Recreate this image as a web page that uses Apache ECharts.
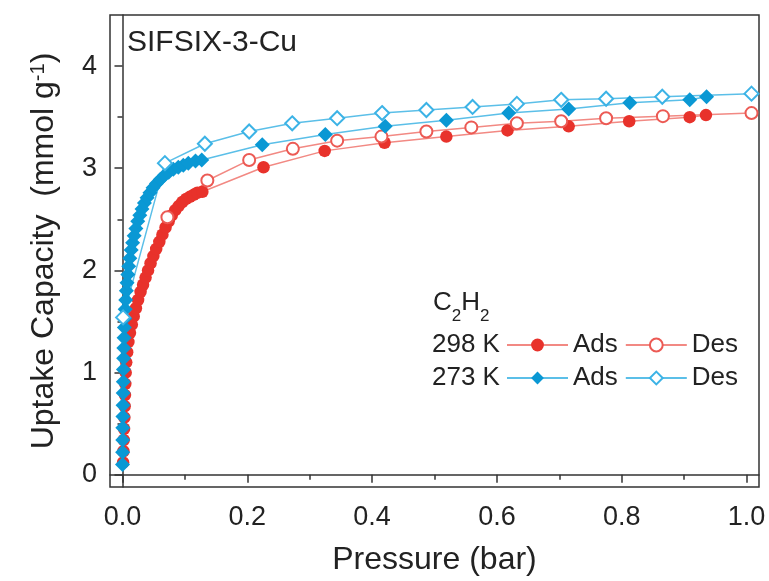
<!DOCTYPE html>
<html>
<head>
<meta charset="utf-8">
<title>SIFSIX-3-Cu C2H2 isotherms</title>
<script src="https://cdn.jsdelivr.net/npm/echarts@6/dist/echarts.min.js"></script>
<style>
  html, body { margin: 0; padding: 0; background: #fff; }
  #chart { width: 769px; height: 581px; }
</style>
</head>
<body>
<div id="chart"></div>
<script>
// C2H2 isotherms on SIFSIX-3-Cu: [pressure (bar), uptake (mmol/g)]
const ads298 = [
  [0.0010, 0.12], [0.0015, 0.23], [0.0020, 0.34], [0.0025, 0.45], [0.0030, 0.56],
  [0.0035, 0.67], [0.0040, 0.78], [0.0045, 0.89], [0.0052, 1.00], [0.0060, 1.10],
  [0.0075, 1.20], [0.0095, 1.30], [0.0120, 1.39], [0.0150, 1.47], [0.0180, 1.55],
  [0.0215, 1.63], [0.0250, 1.71], [0.0290, 1.79], [0.0330, 1.86], [0.0370, 1.93],
  [0.0410, 2.00], [0.0450, 2.07], [0.0495, 2.14], [0.0540, 2.21], [0.0590, 2.28],
  [0.0640, 2.35], [0.0690, 2.42], [0.0740, 2.48], [0.0790, 2.54], [0.0845, 2.59],
  [0.0900, 2.63], [0.0960, 2.67], [0.1020, 2.70], [0.1080, 2.72], [0.1140, 2.74],
  [0.1200, 2.76], [0.1280, 2.77],
  [0.226, 3.01], [0.324, 3.17], [0.420, 3.25], [0.519, 3.31], [0.617, 3.37],
  [0.715, 3.41], [0.812, 3.46], [0.909, 3.50], [0.935, 3.52]
];
const des298 = [
  [1.008, 3.54], [0.866, 3.51], [0.775, 3.49], [0.703, 3.46], [0.632, 3.44],
  [0.559, 3.40], [0.487, 3.36], [0.415, 3.31], [0.344, 3.27], [0.273, 3.19],
  [0.203, 3.08], [0.136, 2.88], [0.072, 2.52]
];
const ads273 = [
  [0.0000, 0.10], [0.0002, 0.22], [0.0004, 0.34], [0.0005, 0.46], [0.0007, 0.57],
  [0.0009, 0.68], [0.0011, 0.80], [0.0013, 0.91], [0.0015, 1.03], [0.0018, 1.14],
  [0.0021, 1.24], [0.0025, 1.34], [0.0030, 1.44], [0.0036, 1.53], [0.0043, 1.62],
  [0.0052, 1.71], [0.0062, 1.80], [0.0073, 1.88], [0.0086, 1.96], [0.0100, 2.04],
  [0.0118, 2.12], [0.0140, 2.20], [0.0163, 2.27], [0.0188, 2.34], [0.0215, 2.41],
  [0.0245, 2.48], [0.0278, 2.54], [0.0313, 2.60], [0.0352, 2.66], [0.0394, 2.71],
  [0.0440, 2.76], [0.0490, 2.81], [0.0545, 2.85], [0.0605, 2.89], [0.0670, 2.93],
  [0.0740, 2.96], [0.0815, 2.99], [0.0895, 3.01], [0.0975, 3.03], [0.1055, 3.05],
  [0.1170, 3.07], [0.1270, 3.08],
  [0.224, 3.23], [0.325, 3.33], [0.421, 3.41], [0.519, 3.47], [0.619, 3.54],
  [0.715, 3.58], [0.813, 3.64], [0.909, 3.67], [0.936, 3.70]
];
const des273 = [
  [1.008, 3.73], [0.865, 3.70], [0.775, 3.68], [0.703, 3.67], [0.632, 3.63],
  [0.561, 3.60], [0.487, 3.57], [0.416, 3.54], [0.344, 3.49], [0.272, 3.44],
  [0.203, 3.36], [0.132, 3.24], [0.068, 3.05], [0.001, 1.54]
];

// axis ticks
const xTicks = [0.0, 0.2, 0.4, 0.6, 0.8, 1.0];
const xMinorTicks = [0.1, 0.3, 0.5, 0.7, 0.9];
const yTicks = [0, 1, 2, 3, 4];
const yMinorTicks = [0.5, 1.5, 2.5, 3.5];

const FONT = 'Liberation Sans, Arial, Helvetica, sans-serif';
const INK = '#222';
const AXIS = '#333';

const RED = '#e8322b', RED_OPEN = '#ec5a54', RED_LINE = '#f28983';
const BLUE = '#0a98d4', BLUE_OPEN = '#3cb3e6', BLUE_LINE = '#5bbfe8';

const X_RANGE = { min: -0.02, max: 1.02 };
const Y_RANGE = { min: -0.12, max: 4.5 };

const chart = echarts.init(document.getElementById('chart'), null, { renderer: 'canvas' });

function lineSeries(name, data, symbol, size, color, lineColor) {
  return {
    name: name,
    type: 'line',
    data: data,
    symbol: symbol,
    symbolSize: size,
    showSymbol: true,
    showAllSymbol: true,
    smooth: false,
    itemStyle: { color: color, borderWidth: 1.5 },
    lineStyle: { color: lineColor, width: 1.5 },
    emphasis: { disabled: true }
  };
}

const legendText = { fontFamily: FONT, fontSize: 26, color: INK };

chart.setOption({
  animation: false,
  textStyle: { fontFamily: FONT },
  grid: {
    left: 110, right: 10, top: 15, bottom: 94,
    show: true, borderColor: AXIS, borderWidth: 1.5,
    outerBoundsMode: 'none'
  },
  xAxis: [
    {
      type: 'value', position: 'bottom',
      min: X_RANGE.min, max: X_RANGE.max,
      name: 'Pressure (bar)', nameLocation: 'middle', nameGap: 57,
      nameTextStyle: { fontFamily: FONT, fontSize: 32, color: INK },
      axisLine: { show: true, lineStyle: { color: AXIS, width: 1.5 } },
      axisTick: { show: true, inside: false, length: 8, customValues: xTicks,
                  lineStyle: { color: AXIS, width: 1.5 } },
      axisLabel: { show: true, customValues: xTicks, margin: 17,
                   fontFamily: FONT, fontSize: 27, color: INK,
                   formatter: v => Number(v).toFixed(1) },
      splitLine: { show: false }
    },
    {
      type: 'value', position: 'bottom',
      min: X_RANGE.min, max: X_RANGE.max,
      axisLine: { show: false },
      axisTick: { show: true, inside: false, length: 5, customValues: xMinorTicks,
                  lineStyle: { color: AXIS, width: 1.5 } },
      axisLabel: { show: false },
      splitLine: { show: false }
    }
  ],
  yAxis: [
    {
      type: 'value', position: 'left',
      min: Y_RANGE.min, max: Y_RANGE.max,
      name: '{t|Uptake Capacity  (mmol g}{s|-1}{t|)}',
      nameLocation: 'middle', nameGap: 50, nameRotate: 90,
      nameTextStyle: {
        color: INK,
        rich: {
          t: { fontFamily: FONT, fontSize: 32, color: INK, lineHeight: 32 },
          s: { fontFamily: FONT, fontSize: 20, color: INK, lineHeight: 9, verticalAlign: 'top' }
        }
      },
      axisLine: { show: true, lineStyle: { color: AXIS, width: 1.5 } },
      axisTick: { show: true, inside: false, length: 8, customValues: yTicks,
                  lineStyle: { color: AXIS, width: 1.5 } },
      axisLabel: { show: true, customValues: yTicks, margin: 13,
                   fontFamily: FONT, fontSize: 27, color: INK },
      splitLine: { show: false }
    },
    {
      type: 'value', position: 'left',
      min: Y_RANGE.min, max: Y_RANGE.max,
      axisLine: { show: false },
      axisTick: { show: true, inside: false, length: 5, customValues: yMinorTicks,
                  lineStyle: { color: AXIS, width: 1.5 } },
      axisLabel: { show: false },
      splitLine: { show: false }
    }
  ],
  legend: [
    {
      data: ['298 K Ads', '298 K Des'],
      left: 506, top: 332, padding: 0, itemGap: 7,
      itemWidth: 61, itemHeight: 16,
      selectedMode: false,
      textStyle: legendText,
      formatter: name => name.split(' ').pop()
    },
    {
      data: ['273 K Ads', '273 K Des'],
      left: 506, top: 365, padding: 0, itemGap: 7,
      itemWidth: 61, itemHeight: 16,
      selectedMode: false,
      textStyle: legendText,
      formatter: name => name.split(' ').pop()
    }
  ],
  graphic: [
    {
      type: 'text', x: 127, y: 43,
      style: { text: 'SIFSIX-3-Cu', fontFamily: FONT, fontSize: 30, fill: INK,
               verticalAlign: 'middle' }
    },
    {
      type: 'text', x: 433, y: 290,
      style: {
        text: '{m|C}{b|2}{m|H}{b|2}', verticalAlign: 'top',
        rich: {
          m: { fontFamily: FONT, fontSize: 26, fill: INK, lineHeight: 26, verticalAlign: 'top' },
          b: { fontFamily: FONT, fontSize: 17, fill: INK, lineHeight: 35, verticalAlign: 'bottom' }
        }
      }
    },
    {
      type: 'text', x: 432, y: 345,
      style: { text: '298 K', fontFamily: FONT, fontSize: 26, fill: INK, verticalAlign: 'middle' }
    },
    {
      type: 'text', x: 432, y: 378,
      style: { text: '273 K', fontFamily: FONT, fontSize: 26, fill: INK, verticalAlign: 'middle' }
    }
  ],
  series: [
    lineSeries('298 K Ads', ads298, 'circle', 12.5, RED, RED_LINE),
    lineSeries('298 K Des', des298, 'emptyCircle', 12, RED_OPEN, RED_LINE),
    lineSeries('273 K Ads', ads273, 'diamond', 15, BLUE, BLUE_LINE),
    lineSeries('273 K Des', des273, 'emptyDiamond', 14, BLUE_OPEN, BLUE_LINE)
  ]
});
</script>
</body>
</html>
